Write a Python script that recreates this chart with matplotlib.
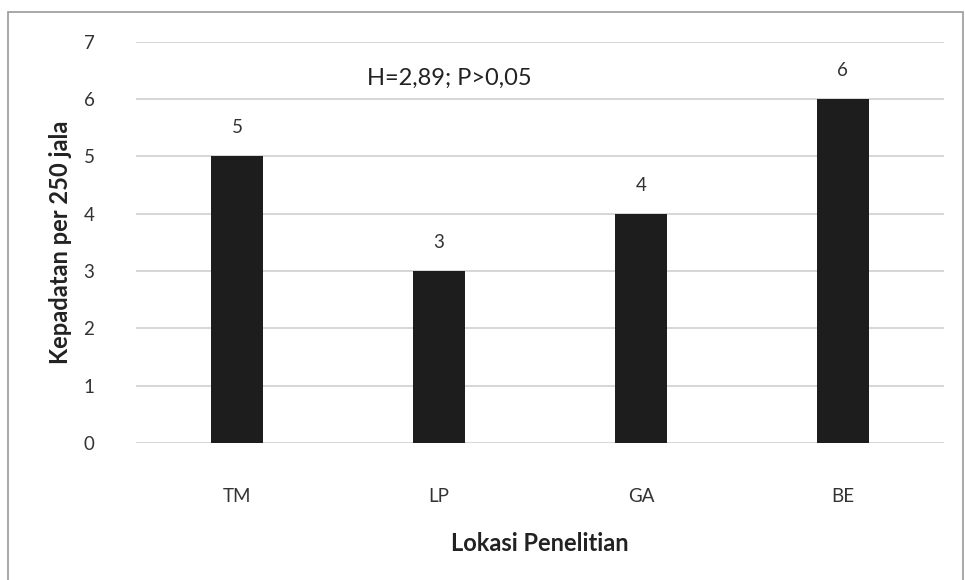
import matplotlib.pyplot as plt
from matplotlib.patches import Rectangle

# data
lokasi = ['TM', 'LP', 'GA', 'BE']
kepadatan = [5, 3, 4, 6]
y_ticks = [0, 1, 2, 3, 4, 5, 6, 7]
stat_text = 'H=2,89; P>0,05'

plt.rcParams['font.family'] = ['Lato', 'DejaVu Sans']

fig = plt.figure(figsize=(9.65, 5.8), dpi=100)
ax = fig.add_axes([0.141, 0.236, 0.837, 0.692])

x = range(len(lokasi))
bars = ax.bar(x, kepadatan, width=0.255, color='#1d1d1d', zorder=3)

for xi, v in zip(x, kepadatan):
    ax.text(xi, v + 0.35, str(v), ha='center', va='bottom', fontsize=13.5, color='#333333')

ax.text(1.05, 6.37, stat_text, ha='center', va='center', fontsize=17, color='#222222')

ax.set_xlim(-0.5, 3.5)
ax.set_ylim(0, 7)
ax.set_yticks(y_ticks)
ax.set_xticks(list(x))
ax.set_xticklabels(lokasi)
ax.tick_params(axis='both', length=0, labelsize=13.5, colors='#333333')
ax.tick_params(axis='y', pad=30)
ax.tick_params(axis='x', pad=32)

ax.grid(axis='y', color='#cfcfcf', linestyle='-', linewidth=1.2, zorder=0)
ax.set_axisbelow(True)
for s in ax.spines.values():
    s.set_visible(False)

ax.set_xlabel('Lokasi Penelitian', fontsize=17, fontweight='bold', labelpad=20, color='#222222')
ax.set_ylabel('Kepadatan per 250 jala', fontsize=17, fontweight='bold', labelpad=8, color='#222222')

# outer frame of the scanned chart
fig.patches.append(Rectangle((0.008, -0.01), 0.99, 0.99, transform=fig.transFigure,
                             fill=False, edgecolor='#9a9a9a', linewidth=1.2))

fig.savefig('out.png', dpi=100)
